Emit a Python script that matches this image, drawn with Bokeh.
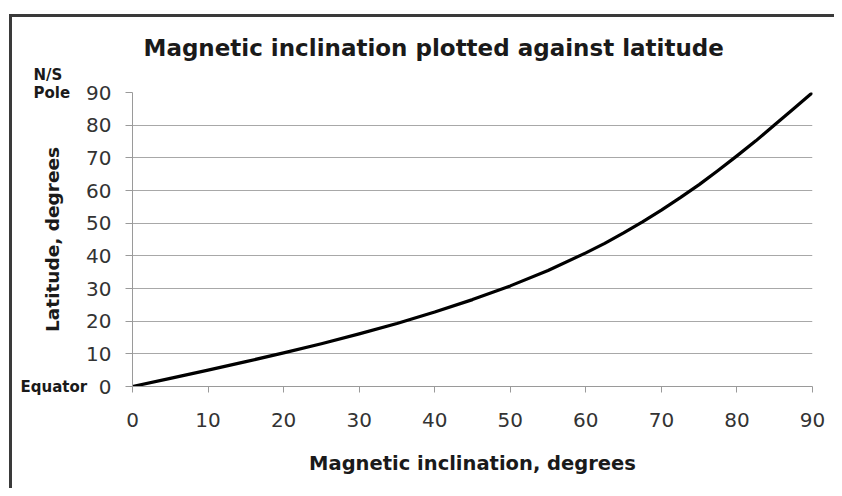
from bokeh.plotting import figure
from bokeh.models import Label, FixedTicker, Range1d
from bokeh.embed import file_html
from bokeh.resources import INLINE

# Data
inclination = [0, 5, 10, 15, 20, 25, 30, 35, 40, 45, 50, 55, 60, 62.5, 65, 67.5, 70,
               72.5, 75, 77.5, 80, 82.5, 85, 87.5, 90]
latitude = [0, 2.5, 5.0, 7.6, 10.3, 13.1, 16.1, 19.3, 22.8, 26.6, 30.8, 35.5, 40.9, 43.8, 47.0, 50.4, 54.0,
            57.8, 61.8, 66.1, 70.6, 75.2, 80.1, 85.0, 90]
x_ticks = [0, 10, 20, 30, 40, 50, 60, 70, 80, 90]
y_ticks = [0, 10, 20, 30, 40, 50, 60, 70, 80, 90]

title_text = "Magnetic inclination plotted against latitude"
x_label = "Magnetic inclination, degrees"
y_label = "Latitude, degrees"
pole_text = ["N/S", "Pole"]
equator_text = "Equator"

FONT = "DejaVu Sans"

p = figure(width=834, height=488, output_backend="svg", toolbar_location=None,
           x_range=Range1d(0, 90), y_range=Range1d(0, 90),
           min_border_left=132, min_border_right=22, min_border_top=92, min_border_bottom=102)

p.outline_line_color = None
p.background_fill_color = "white"
p.border_fill_color = None
p.styles = {
    "background": "linear-gradient(#3a3a3a, #3a3a3a) 9px 14px / 3px 100% no-repeat, "
                  "linear-gradient(#3a3a3a, #3a3a3a) 9px 14px / 100% 3px no-repeat, white"
}

p.line(inclination, latitude, line_width=3.2, line_color="black", line_join="round")

# axes
for ax in (p.xaxis[0], p.yaxis[0]):
    ax.axis_line_color = "#9a9a9a"
    ax.axis_line_width = 1
    ax.major_tick_line_color = "#9a9a9a"
    ax.major_tick_in = 0
    ax.minor_tick_line_color = None
    ax.major_label_text_font = FONT
    ax.major_label_text_font_size = "20px"
    ax.major_label_text_color = "#333333"
    ax.axis_label_text_font = FONT
    ax.axis_label_text_font_style = "bold"
    ax.axis_label_text_color = "#1a1a1a"

p.xaxis.axis_label_text_font_size = "19.5px"
p.yaxis.axis_label_text_font_size = "18.5px"
p.xaxis.ticker = FixedTicker(ticks=x_ticks)
p.yaxis.ticker = FixedTicker(ticks=y_ticks)
p.xaxis.axis_label = x_label
p.yaxis.axis_label = y_label
p.xaxis.major_tick_out = 6
p.yaxis.major_tick_out = 7
p.xaxis.major_label_standoff = 20
p.yaxis.major_label_standoff = 14
p.xaxis.axis_label_standoff = 22
p.yaxis.axis_label_standoff = 20

p.xgrid.grid_line_color = None
p.ygrid.grid_line_color = "#a8a8a8"
p.ygrid.grid_line_width = 1

# Texts outside the plotting area: placed in side panels (not clipped), positioned in data coords
title = Label(x=0, y=90, x_offset=11, y_offset=45, text=title_text,
              text_font=FONT, text_font_size="23px", text_font_style="bold",
              text_color="#1a1a1a", text_align="left", text_baseline="middle")
p.add_layout(title, "above")

side_style = dict(text_font=FONT, text_font_size="15px", text_font_style="bold",
                  text_color="#1a1a1a", text_align="left", text_baseline="middle")
p.add_layout(Label(x=0, y=90, x_offset=-99, y_offset=0, text=pole_text[1], **side_style), "above")
p.add_layout(Label(x=0, y=0, x_offset=-112, y_offset=0, text=equator_text, **side_style), "above")
p.add_layout(Label(x=0, y=90, x_offset=-99, y_offset=18, text=pole_text[0], **side_style), "left")

open("out.html", "w").write(file_html(p, INLINE))
